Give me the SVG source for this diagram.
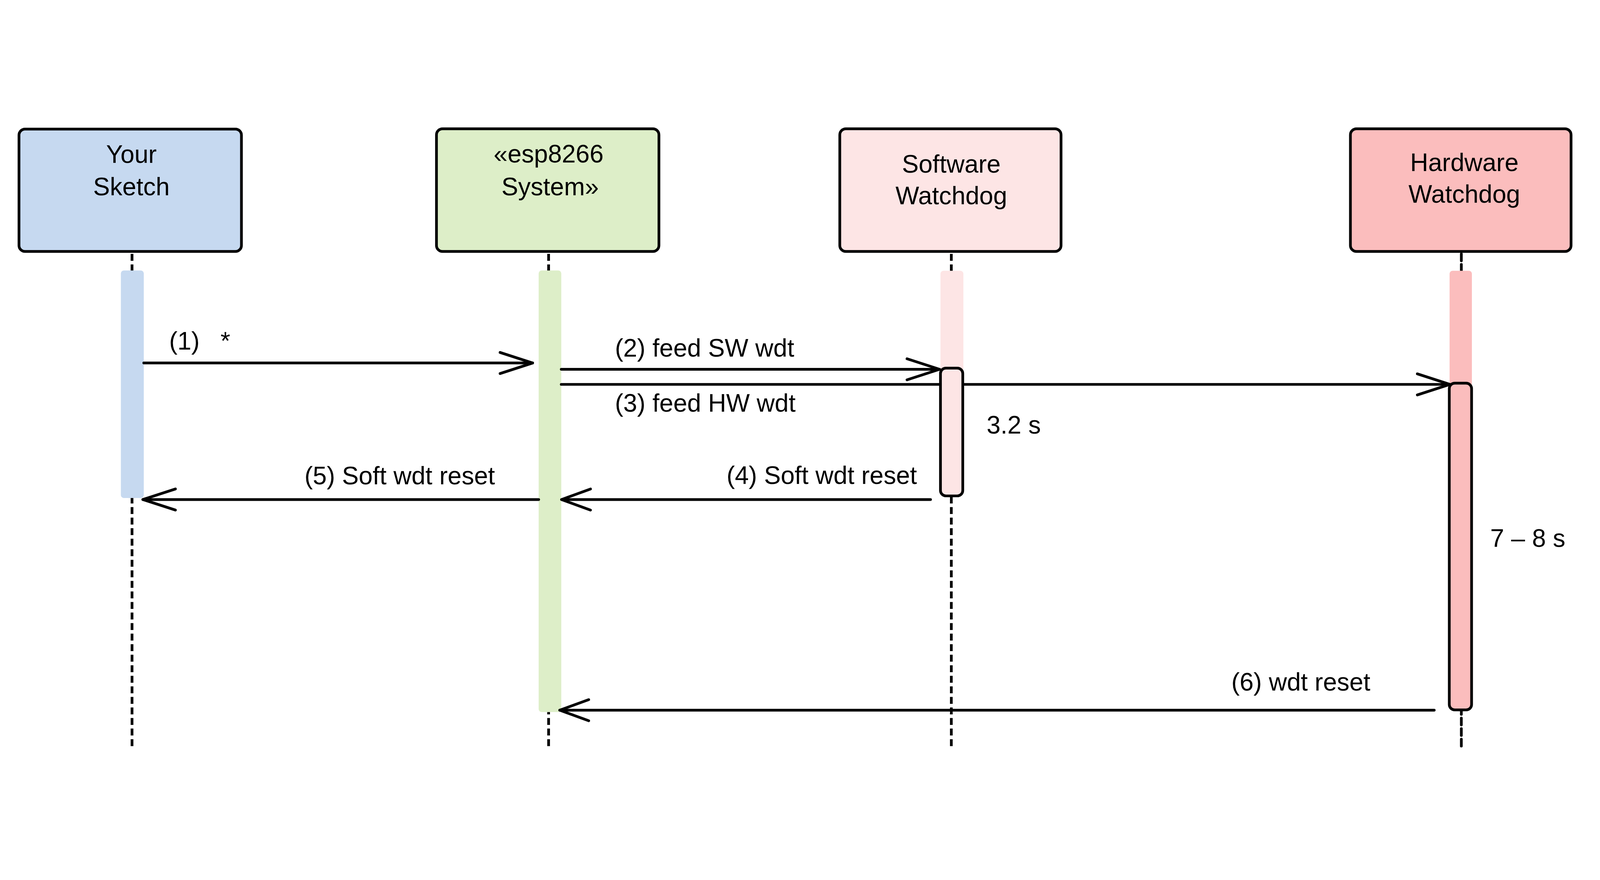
<svg xmlns="http://www.w3.org/2000/svg" width="5308" height="2253" viewBox="0 0 5308 2253" preserveAspectRatio="xMidYMid meet" style="width:100vw;height:100vh;display:block;overflow:hidden">
<style>
.box{stroke:#000;stroke-width:9}
.lbl{font-family:"Liberation Sans",Arial,sans-serif;font-size:83px;fill:#000}
.mid{text-anchor:middle}
.life{stroke:#000;stroke-width:9;stroke-dasharray:23 12;fill:none}
.msg{stroke:#000;stroke-width:9;stroke-linecap:round;fill:none}
.act{stroke:#000;stroke-width:9}
</style>
<defs>
<marker id="arr" markerUnits="userSpaceOnUse" viewBox="0 0 120 80" markerWidth="120" markerHeight="80" refX="110" refY="40" orient="auto" overflow="visible">
<path d="M2 5 L110 40 L2 75" fill="none" stroke="#000" stroke-width="9" stroke-linecap="round" stroke-linejoin="round"/>
</marker>
<marker id="arr2" markerUnits="userSpaceOnUse" viewBox="0 0 120 80" markerWidth="120" markerHeight="80" refX="110" refY="40" orient="auto" overflow="visible">
<path d="M14 5 L110 40 L14 75" fill="none" stroke="#000" stroke-width="9" stroke-linecap="round" stroke-linejoin="round"/>
</marker>
</defs>
<rect width="5308" height="2253" fill="#fff"/>

<g id="lifelines">
<line class="life" x1="438" y1="509" x2="438" y2="2142"/>
<line class="life" x1="1820" y1="509" x2="1820" y2="2142"/>
<line class="life" x1="3156" y1="509" x2="3156" y2="2142"/>
<line class="life" x1="4848" y1="509" x2="4848" y2="2142" stroke-linecap="round"/>
</g>

<g id="your-sketch">
<rect class="box" x="63" y="95" width="738" height="406" rx="20" fill="#C6D9F0"/>
<text class="lbl mid" x="436" y="207">Your</text>
<text class="lbl mid" x="436" y="314">Sketch</text>
<rect x="401" y="564" width="76" height="755" rx="10" fill="#C6D9F0"/>
</g>

<g id="esp8266-system">
<rect class="box" x="1448" y="94" width="738" height="407" rx="20" fill="#DDEEC8"/>
<text class="lbl mid" x="1820" y="206">&#171;esp8266</text>
<text class="lbl mid" x="1825" y="314">System&#187;</text>
<rect x="1787" y="564" width="75" height="1465" rx="10" fill="#DDEEC8"/>
</g>

<g id="software-watchdog">
<rect class="box" x="2786" y="94" width="734" height="407" rx="20" fill="#FDE5E5"/>
<text class="lbl mid" x="3156" y="239">Software</text>
<text class="lbl mid" x="3156" y="344">Watchdog</text>
<rect x="3120" y="565" width="76" height="400" rx="10" fill="#FDE5E5"/>
</g>

<g id="hardware-watchdog">
<rect class="box" x="4480" y="94" width="732" height="407" rx="20" fill="#FBBDBD"/>
<text class="lbl mid" x="4858" y="234">Hardware</text>
<text class="lbl mid" x="4858" y="339">Watchdog</text>
<rect x="4809" y="565" width="74" height="420" rx="10" fill="#FBBDBD"/>
</g>

<g id="connectors">
<line class="msg" x1="477" y1="871" x2="1767" y2="871" marker-end="url(#arr)"/>
<line class="msg" x1="1862" y1="892" x2="3117" y2="892" marker-end="url(#arr)"/>
<line class="msg" x1="1862" y1="942" x2="4810" y2="942" marker-end="url(#arr)"/>
<line class="msg" x1="3087" y1="1324" x2="1863" y2="1324" marker-end="url(#arr2)"/>
<line class="msg" x1="1787" y1="1324" x2="474" y2="1324" marker-end="url(#arr)"/>
<line class="msg" x1="4758" y1="2023" x2="1857" y2="2023" marker-end="url(#arr2)"/>
</g>

<g id="activations">
<rect class="act" x="3120" y="888" width="74" height="424" rx="18" fill="#FDE5E5"/>
<rect class="act" x="4808" y="938" width="74" height="1084" rx="18" fill="#FBBDBD"/>
</g>

<g id="labels">
<text class="lbl" x="561" y="826" xml:space="preserve">(1)   *</text>
<text class="lbl" x="2040" y="850">(2) feed SW wdt</text>
<text class="lbl" x="2040" y="1033">(3) feed HW wdt</text>
<text class="lbl" x="3273" y="1105">3.2 s</text>
<text class="lbl" x="3042" y="1272" text-anchor="end">(4) Soft wdt reset</text>
<text class="lbl" x="1642" y="1274" text-anchor="end">(5) Soft wdt reset</text>
<text class="lbl" x="4944" y="1481">7 &#8211; 8 s</text>
<text class="lbl" x="4546" y="1958" text-anchor="end">(6) wdt reset</text>
</g>
</svg>
